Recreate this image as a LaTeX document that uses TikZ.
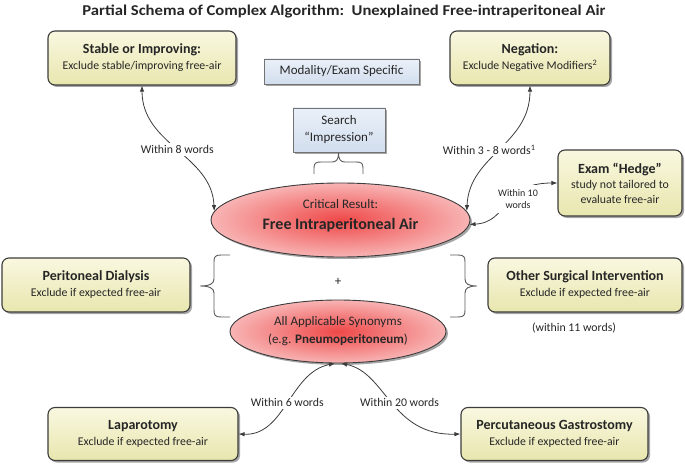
\documentclass[tikz,border=0pt]{standalone}
\usepackage{fontspec}
\setmainfont{Carlito}
\newfontfamily\titlefont[FakeStretch=1.11]{Carlito}
\usetikzlibrary{shapes.geometric,shadows,arrows.meta}
\definecolor{txt}{HTML}{262626}
\definecolor{yTop}{HTML}{F9F8E0}
\definecolor{yBot}{HTML}{E8E6AE}
\definecolor{bTop}{HTML}{EAF0F8}
\definecolor{bBot}{HTML}{D2DEEE}
\definecolor{rIn}{HTML}{EF4848}
\definecolor{rOut}{HTML}{F8B4B4}
\definecolor{edge}{HTML}{3C3C3C}
\definecolor{brc}{HTML}{5A5A5A}
\newcommand\hdfont{\fontsize{14}{17}\selectfont\bfseries}
\begin{document}
\begin{tikzpicture}[x=1pt,y=-1pt,
  every node/.style={text=txt},
  shad/.style={drop shadow={shadow xshift=2pt,shadow yshift=-2pt,opacity=.35,fill=black}},
  ybox/.style={draw=edge,line width=1.1pt,rounded corners=7pt,top color=yTop,bottom color=yBot,
     shad,align=center,inner sep=0pt,font=\fontsize{11.8}{15}\selectfont},
  bbox/.style={draw=black!55,line width=0.7pt,top color=bTop,bottom color=bBot,
     shad,align=center,inner sep=0pt,font=\fontsize{13}{17}\selectfont},
  rell/.style={ellipse,draw=edge,line width=0.9pt,inner color=rIn,outer color=rOut,
     shad,align=center,inner sep=0pt,font=\fontsize{13}{18}\selectfont},
  conn/.style={draw=edge,line width=0.8pt,{Latex[length=6pt,width=4.5pt]}-{Latex[length=6pt,width=4.5pt]}},
  lbl/.style={fill=white,inner sep=2pt,font=\fontsize{11.8}{14}\selectfont,align=center},
  brace/.style={draw=brc,line width=0.9pt}
]
\useasboundingbox (0,0) rectangle (685,465);

\node[font=\fontsize{15}{18}\titlefont\bfseries] (title) at (344,12)
  {Partial Schema of Complex Algorithm:\ \ Unexplained Free-intraperitoneal Air};

\node[ybox,minimum width=188,minimum height=54] (stable) at (142,58)
  {{\hdfont Stable or Improving:}\\[1pt] Exclude stable/improving free-air};
\node[ybox,minimum width=160,minimum height=54] (neg) at (530,58)
  {{\hdfont Negation:}\\[1pt] Exclude Negative Modifiers\textsuperscript{2}};
\node[bbox,minimum width=155,minimum height=25] (mod) at (341.5,71.5)
  {Modality/Exam Specific};
\node[bbox,minimum width=92,minimum height=44] (search) at (339,130)
  {Search\\ “Impression”};
\node[ybox,minimum width=124,minimum height=66] (hedge) at (620,183)
  {{\hdfont Exam “Hedge”}\\ study not tailored to\\ evaluate free-air};

\node[rell,minimum width=259,minimum height=74] (crit) at (340.5,220)
  {\raisebox{5pt}[\height][\depth]{\begin{tabular}{@{}c@{}}Critical Result:\\[3pt]
   {\fontsize{16}{19}\selectfont\bfseries Free Intraperitoneal Air}\end{tabular}}};

\node[ybox,minimum width=188,minimum height=54] (perit) at (96,285)
  {{\hdfont Peritoneal Dialysis}\\[1pt] Exclude if expected free-air};
\node[ybox,minimum width=194,minimum height=54] (other) at (585,285)
  {{\hdfont Other Surgical Intervention}\\[1pt] Exclude if expected free-air};
\node[font=\fontsize{11.8}{14}\selectfont] (w11) at (574,328) {(within 11 words)};
\node[font=\fontsize{13}{15}\selectfont] (plus) at (338,282) {+};

\node[rell,minimum width=216,minimum height=63] (syn) at (338,331.5)
  {All Applicable Synonyms\\ (e.g. \textbf{Pneumoperitoneum})};

\node[ybox,minimum width=190,minimum height=53] (lap) at (143,434)
  {{\hdfont Laparotomy}\\[1pt] Exclude if expected free-air};
\node[ybox,minimum width=187,minimum height=53] (perc) at (554.5,434)
  {{\hdfont Percutaneous Gastrostomy}\\[1pt] Exclude if expected free-air};

% connectors
\draw[conn] (stable.south) .. controls (142,145) and (212,155) .. (crit.176)
  node[lbl,pos=0.5] (l8) {Within 8 words};
\draw[conn] (neg.south) .. controls (530,145) and (469,155) .. (crit.4)
  node[lbl,pos=0.5,xshift=-10pt] (l38) {Within 3 - 8 words\textsuperscript{1}};
\draw[conn] (hedge.west) .. controls (500,183) and (510,222) .. (crit.-2);
\node[lbl,inner sep=4pt,font=\fontsize{10}{12}\selectfont] (l10) at (518,199) {Within 10\\ words};
\draw[conn] (lap.east) .. controls (285,436) and (290,372) .. ([xshift=-3pt]syn.south)
  node[lbl,pos=0.5] (l6) {Within 6 words};
\draw[conn] ([xshift=3pt]syn.south) .. controls (386,372) and (391,436) .. (perc.west)
  node[lbl,pos=0.5,xshift=8pt] (l20) {Within 20 words};

% braces
\draw[brace] (314,174) -- (314,168) .. controls (314,163) and (316,162) .. (321,162) -- (332,162)
  .. controls (336,162) and (338.5,160) .. (338.5,153)
  .. controls (338.5,160) and (341,162) .. (345,162) -- (356,162)
  .. controls (361,162) and (363,163) .. (363,168) -- (363,174);
\draw[brace] (230,255) -- (221,255) .. controls (215,255) and (214,257) .. (214,262) -- (214,279)
  .. controls (214,284) and (209,286) .. (200,286)
  .. controls (209,286) and (214,288) .. (214,293) -- (214,310)
  .. controls (214,315) and (215,317) .. (221,317) -- (230,317);
\draw[brace] (450,255) -- (458,255) .. controls (464,255) and (465,257) .. (465,262) -- (465,279)
  .. controls (465,284) and (469,286) .. (477,286)
  .. controls (469,286) and (465,288) .. (465,293) -- (465,310)
  .. controls (465,315) and (464,317) .. (458,317) -- (450,317);
\end{tikzpicture}
\end{document}
